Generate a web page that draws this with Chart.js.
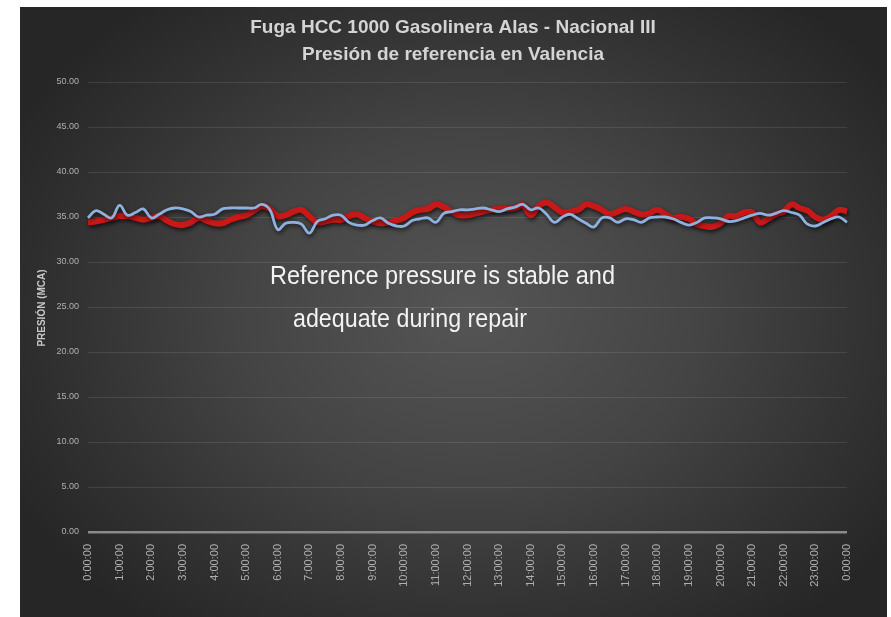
<!DOCTYPE html>
<html>
<head>
<meta charset="utf-8">
<script src="https://cdn.jsdelivr.net/npm/chart.js@4.4.1/dist/chart.umd.min.js"></script>
<style>
  html,body{margin:0;padding:0;background:#ffffff;}
  #wrap{position:absolute;left:20px;top:7px;width:867px;height:610px;
    background:radial-gradient(ellipse 60% 65% at 52% 50%, #555555 0%, #444444 45%, #333333 75%, #262626 100%);}
  canvas{display:block;}
</style>
</head>
<body>
<div id="wrap"><canvas id="c" width="867" height="610"></canvas></div>
<script>
// ---- data ----
const titleLines = ["Fuga HCC 1000 Gasolinera Alas - Nacional III", "Presión de referencia en Valencia"];
const yAxisTitle = "PRESIÓN (MCA)";
const noteLines = ["Reference pressure is stable and", "adequate during repair"];
const hourLabels = ["0:00:00","1:00:00","2:00:00","3:00:00","4:00:00","5:00:00","6:00:00","7:00:00","8:00:00","9:00:00","10:00:00","11:00:00","12:00:00","13:00:00","14:00:00","15:00:00","16:00:00","17:00:00","18:00:00","19:00:00","20:00:00","21:00:00","22:00:00","23:00:00","0:00:00"];
// categories: 15-minute samples over the day
const times = [];
for (let i = 0; i < 97; i++) {
  const m = i * 15;
  times.push(Math.floor(m / 60) % 24 + ":" + String(m % 60).padStart(2, "0") + ":00");
}
const redSeries = [34.4,34.5,34.7,34.9,35.1,35.1,34.9,34.7,34.9,35.1,34.6,34.2,34.1,34.4,34.9,34.6,34.3,34.3,34.7,35.0,
  35.2,35.7,36.2,35.9,35.1,35.2,35.6,35.8,35.1,34.4,34.5,34.7,34.7,35.1,35.3,34.9,34.5,34.3,34.4,34.6,
  34.9,35.5,35.8,35.9,36.4,36.1,35.6,35.2,35.2,35.4,35.6,35.8,35.9,35.9,36.0,36.3,35.2,36.2,36.6,36.1,
  35.5,35.6,35.8,36.4,36.2,35.8,35.3,35.6,35.9,35.6,35.3,35.4,35.8,35.3,34.9,35.0,34.8,34.2,34.0,33.9,
  34.3,35.1,35.1,35.5,35.5,34.4,34.8,35.3,35.6,36.4,36.0,35.7,35.0,34.7,35.1,35.8,35.6];
const blueSeries = [34.9,35.7,35.3,34.9,36.3,35.2,35.5,35.9,34.9,35.3,35.8,36.0,35.9,35.6,35.0,35.2,35.3,35.9,36.0,36.0,
  36.0,36.0,36.4,35.8,33.6,34.3,34.4,34.2,33.2,34.5,34.8,35.2,35.2,34.4,34.1,34.1,34.6,34.9,34.3,34.0,
  34.0,34.6,34.8,34.9,34.4,35.4,35.6,35.8,35.8,35.9,36.0,35.8,35.6,35.9,36.1,36.4,35.8,36.0,35.3,34.4,
  35.0,35.3,34.8,34.3,33.9,34.9,34.9,34.4,34.8,34.7,34.4,34.9,35.0,35.0,34.8,34.4,34.1,34.4,34.9,34.9,
  34.8,34.5,34.6,34.9,35.2,35.4,35.2,35.4,35.7,35.5,35.2,34.2,34.0,34.4,34.8,35.0,34.4];

const FONT = "'Liberation Sans', Arial, sans-serif";

const shadowPlugin = {
  id: 'shadow',
  beforeDatasetDraw(chart) {
    const ctx = chart.ctx;
    ctx.save();
    ctx.shadowColor = 'rgba(0,0,0,0.7)';
    ctx.shadowBlur = 4;
    ctx.shadowOffsetX = 1;
    ctx.shadowOffsetY = 2;
  },
  afterDatasetDraw(chart) { chart.ctx.restore(); }
};

const textPlugin = {
  id: 'texts',
  afterDraw(chart) {
    const ctx = chart.ctx;
    ctx.save();
    ctx.fillStyle = '#d4d4d4';
    ctx.textAlign = 'center';
    ctx.textBaseline = 'middle';
    ctx.font = "bold 19px " + FONT;
    ctx.fillText(titleLines[0], 433, 21, 414);
    ctx.fillText(titleLines[1], 433, 48, 320);
    // y axis title
    ctx.save();
    ctx.translate(22, 301);
    ctx.rotate(-Math.PI / 2);
    ctx.font = "bold 10px " + FONT;
    ctx.fillStyle = '#c8c8c8';
    ctx.fillText(yAxisTitle, 0, 0, 93);
    ctx.restore();
    // annotation
    ctx.fillStyle = '#f2f2f2';
    ctx.textAlign = 'left';
    ctx.textBaseline = 'alphabetic';
    ctx.font = "25px " + FONT;
    ctx.fillText(noteLines[0], 250, 277, 345);
    ctx.fillText(noteLines[1], 273, 320, 234);
    ctx.restore();
  }
};

new Chart(document.getElementById('c'), {
  type: 'line',
  data: {
    labels: times,
    datasets: [
      { label: 'Referencia 2', data: blueSeries, borderColor: '#8fb1e0', borderWidth: 2.8,
        pointRadius: 0, tension: 0.4, fill: false, order: 0 },
      { label: 'Referencia 1', data: redSeries, borderColor: '#c81818', borderWidth: 6,
        pointRadius: 0, tension: 0.4, fill: false, order: 1 }
    ]
  },
  options: {
    responsive: false,
    animation: false,
    layout: { padding: { left: 16, right: 40, top: 75, bottom: 0 } },
    plugins: { legend: { display: false }, title: { display: false }, tooltip: { enabled: false } },
    scales: {
      x: {
        offset: false,
        grid: { display: false },
        border: { display: false },
        ticks: {
          autoSkip: false, maxRotation: 90, minRotation: 90, padding: 4,
          color: '#b0b0b0', font: { family: FONT, size: 11 },
          callback: (v, i) => (i % 4 === 0 ? hourLabels[i / 4] : null)
        },
        afterFit(scale) { scale.height = 85; }
      },
      y: {
        min: 0, max: 50,
        border: { display: false },
        grid: {
          drawTicks: false,
          color: (c) => (c.tick && c.tick.value === 0 ? '#8a8a8a' : 'rgba(255,255,255,0.10)'),
          lineWidth: (c) => (c.tick && c.tick.value === 0 ? 2.5 : 1)
        },
        ticks: {
          stepSize: 5, padding: 9, color: '#b0b0b0', font: { family: FONT, size: 9 },
          callback: (v) => Number(v).toFixed(2)
        },
        afterFit(scale) { scale.width = 52; }
      }
    }
  },
  plugins: [shadowPlugin, textPlugin]
});
</script>
</body>
</html>
